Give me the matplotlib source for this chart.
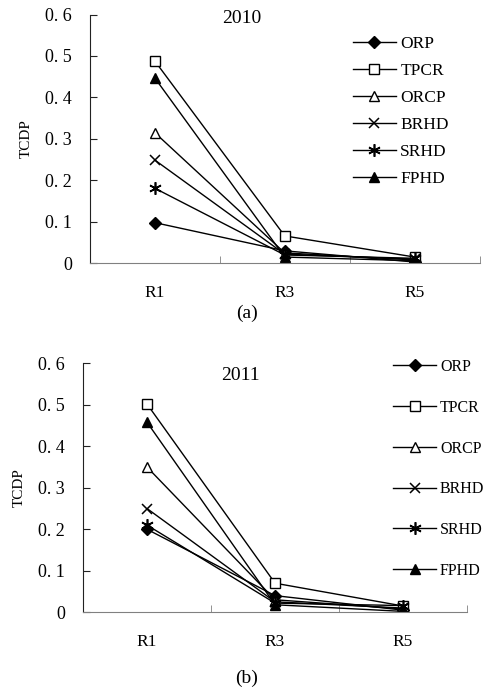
import numpy as np
from matplotlib import pyplot as plt

plt.rc('font', family='serif')
plt.rcParams['font.serif'] = ['Liberation Serif', 'DejaVu Serif']

regions = ['R1', 'R3', 'R5']
series = ['ORP', 'TPCR', 'ORCP', 'BRHD', 'SRHD', 'FPHD']

# TCDP values
tcdp_2010 = {
    'ORP':  [0.098, 0.030, 0.003],
    'TPCR': [0.488, 0.066, 0.015],
    'ORCP': [0.315, 0.025, 0.008],
    'BRHD': [0.249, 0.022, 0.010],
    'SRHD': [0.181, 0.020, 0.012],
    'FPHD': [0.447, 0.015, 0.006],
}
tcdp_2011 = {
    'ORP':  [0.200, 0.040, 0.005],
    'TPCR': [0.502, 0.070, 0.015],
    'ORCP': [0.350, 0.030, 0.008],
    'BRHD': [0.250, 0.025, 0.010],
    'SRHD': [0.210, 0.022, 0.016],
    'FPHD': [0.458, 0.018, 0.002],
}
yticks = [0, 0.1, 0.2, 0.3, 0.4, 0.5, 0.6]
yticklabels = ['0', '0. 1', '0. 2', '0. 3', '0. 4', '0. 5', '0. 6']

styles = {
    'ORP':  dict(marker='D', mfc='black', ms=6),
    'TPCR': dict(marker='s', mfc='white', ms=6.5),
    'ORCP': dict(marker='^', mfc='white', ms=7),
    'BRHD': dict(marker='x', mfc='black', ms=7, mew=1.1),
    'SRHD': dict(marker=(6, 2, 0), mfc='black', ms=9, mew=1.2),
    'FPHD': dict(marker='^', mfc='black', ms=7),
}


def panel(ax, data, year, title_pos, leg_anchor, leg_spacing, leg_size, leg_hl):
	x = np.arange(len(regions))
	for name in series:
		ax.plot(x, data[name], color='black', linewidth=1.0, mec='black',
				label=name, **styles[name])
	ax.set_xlim(-0.5, 2.5)
	ax.set_ylim(0, 0.6)
	ax.set_yticks(yticks)
	ax.set_yticklabels(yticklabels, fontsize=13)
	ax.set_xticks(x)
	ax.set_xticklabels(regions, fontsize=12.5)
	ax.set_xticks([0.5, 1.5, 2.5], minor=True)
	ax.tick_params(axis='x', which='major', length=0, pad=16)
	ax.tick_params(axis='x', which='minor', direction='in', length=5, color='#808080')
	ax.tick_params(axis='y', direction='in', length=5, pad=13, color='#222222')
	ax.spines['top'].set_visible(False)
	ax.spines['right'].set_visible(False)
	ax.spines['bottom'].set_color('#808080')
	ax.spines['left'].set_color('#222222')
	ax.set_ylabel('TCDP', fontsize=11, labelpad=9)
	ax.text(title_pos[0], title_pos[1], year, transform=ax.transAxes,
			ha='center', va='center', fontsize=14)
	ax.legend(loc='upper left', bbox_to_anchor=leg_anchor, frameon=False,
			  fontsize=leg_size, handlelength=leg_hl, handletextpad=0.25,
			  labelspacing=leg_spacing, borderpad=0, borderaxespad=0)


fig = plt.figure(figsize=(4.83, 6.91), dpi=100)
ax1 = fig.add_axes([0.186, 0.619, 0.807, 0.360])
ax2 = fig.add_axes([0.172, 0.114, 0.795, 0.360])

panel(ax1, tcdp_2010, '2010', (0.39, 0.985), (0.674, 0.915), 0.63, 12.5, 2.5)
panel(ax2, tcdp_2011, '2011', (0.409, 0.953), (0.807, 1.018), 1.55, 11.5, 2.7)

fig.text(0.511, 0.547, '(a)', ha='center', va='center', fontsize=14)
fig.text(0.511, 0.019, '(b)', ha='center', va='center', fontsize=14)

fig.savefig('out.png', dpi=100)
